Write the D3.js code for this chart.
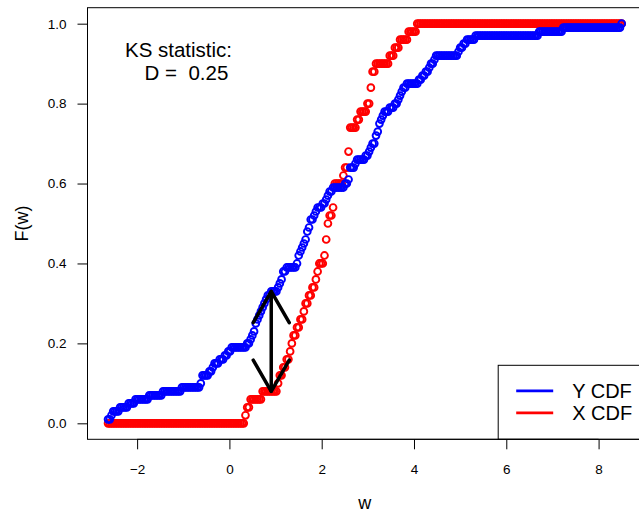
<!DOCTYPE html>
<html>
<head>
<meta charset="utf-8">
<script src="https://cdn.jsdelivr.net/npm/d3@7"></script>
<style>
  body { margin: 0; background: #fff; }
  svg { display: block; font-family: "Liberation Sans", Arial, sans-serif; }
</style>
</head>
<body>
<div id="chart"></div>
<script>
// samples (X: 50 obs, Y: 100 obs)
const xSample = [
  0.33, 0.37, 0.45, 0.70, 1.04, 1.09, 1.15, 1.22, 1.29, 1.34,
  1.38, 1.46, 1.52, 1.58, 1.65, 1.70, 1.79, 1.84, 1.88, 1.94,
  2.05, 2.08, 2.09, 2.12, 2.13, 2.16, 2.22, 2.27, 2.28, 2.28,
  2.46, 2.49, 2.55, 2.57, 2.59, 2.60, 2.60, 2.74, 2.84, 2.98,
  3.03, 3.05, 3.07, 3.10, 3.17, 3.47, 3.57, 3.68, 3.86, 4.07
];
const ySample = [
  -2.63, -2.58, -2.53, -2.40, -2.22, -2.04, -1.76, -1.45, -1.05, -0.62,
  -0.61, -0.60, -0.45, -0.36, -0.33, -0.22, -0.12, -0.05, 0.02, 0.38,
  0.43, 0.47, 0.52, 0.55, 0.57, 0.59, 0.62, 0.65, 0.69, 0.73,
  0.77, 0.81, 0.89, 1.05, 1.07, 1.10, 1.13, 1.16, 1.21, 1.43,
  1.47, 1.50, 1.52, 1.55, 1.58, 1.64, 1.66, 1.68, 1.70, 1.73,
  1.76, 1.80, 1.84, 1.90, 2.00, 2.08, 2.13, 2.17, 2.21, 2.48,
  2.57, 2.60, 2.61, 2.61, 2.70, 2.75, 2.95, 3.02, 3.06, 3.10,
  3.14, 3.16, 3.18, 3.22, 3.25, 3.28, 3.32, 3.35, 3.44, 3.56,
  3.63, 3.69, 3.72, 3.75, 3.84, 4.10, 4.18, 4.25, 4.31, 4.36,
  4.42, 4.47, 4.93, 4.98, 5.05, 5.12, 5.30, 6.70, 7.20, 8.50
];
const xTicks = [-2, 0, 2, 4, 6, 8];
const yTicks = [0, 0.2, 0.4, 0.6, 0.8, 1.0];
const legendLabels = ["Y CDF", "X CDF"];
const gridSize = 300; // number of w values where both ECDFs are evaluated

const width = 639;
const height = 512;
const margin = { top: 7.7, right: -3.2, bottom: 72.7, left: 87.5 };
const colY = "#0000ff";
const colX = "#ff0000";

const svg = d3
  .select("#chart")
  .append("svg")
  .attr("width", width)
  .attr("height", height);

svg.append("rect").attr("width", width).attr("height", height).attr("fill", "#fff");

const xs = xSample.slice().sort(d3.ascending);
const ys = ySample.slice().sort(d3.ascending);
const lo = Math.min(xs[0], ys[0]);
const hi = Math.max(xs[xs.length - 1], ys[ys.length - 1]);
const grid = d3.range(gridSize).map((i) => lo + (i * (hi - lo)) / (gridSize - 1));

const cdf = grid.map((w) => ({
  w: w,
  cx: d3.bisectRight(xs, w),
  cy: d3.bisectRight(ys, w),
}));

// R-style 4% padding around the data range
const pad = 0.04 * (hi - lo);
const x = d3
  .scaleLinear()
  .domain([lo - pad, hi + pad])
  .range([margin.left, width - margin.right]);
const y = d3
  .scaleLinear()
  .domain([-0.04, 1.04])
  .range([height - margin.bottom, margin.top]);

// X CDF first, Y CDF drawn on top
svg
  .append("g")
  .selectAll("circle")
  .data(cdf)
  .enter()
  .append("circle")
  .attr("cx", (d) => x(d.w))
  .attr("cy", (d) => y(d.cx / xs.length))
  .attr("r", 3.4)
  .attr("fill", "none")
  .attr("stroke", colX)
  .attr("stroke-width", 1.9);

svg
  .append("g")
  .selectAll("circle")
  .data(cdf)
  .enter()
  .append("circle")
  .attr("cx", (d) => x(d.w))
  .attr("cy", (d) => y(d.cy / ys.length))
  .attr("r", 3.4)
  .attr("fill", "none")
  .attr("stroke", colY)
  .attr("stroke-width", 1.9);

// KS distance: first grid point with the largest gap
const gaps = cdf.map((d) => Math.abs(d.cy * xs.length - d.cx * ys.length));
const iMax = d3.maxIndex(gaps);
const D = gaps[iMax] / (xs.length * ys.length);
const best = cdf[iMax];

const ax = x(best.w);
const ay0 = y(best.cx / xs.length);
const ay1 = y(best.cy / ys.length);
const headLen = 36;
const hx = headLen * Math.sin(Math.PI / 6);
const hy = headLen * Math.cos(Math.PI / 6);
const dir = ay1 < ay0 ? 1 : -1;

const arrow = svg
  .append("g")
  .attr("fill", "none")
  .attr("stroke", "#000")
  .attr("stroke-width", 3.5)
  .attr("stroke-linecap", "round")
  .attr("stroke-linejoin", "round");
arrow.append("line").attr("x1", ax).attr("x2", ax).attr("y1", ay0).attr("y2", ay1);
arrow
  .append("polyline")
  .attr("points", [[ax - hx, ay1 + dir * hy], [ax, ay1], [ax + hx, ay1 + dir * hy]].join(" "));
arrow
  .append("polyline")
  .attr("points", [[ax - hx, ay0 - dir * hy], [ax, ay0], [ax + hx, ay0 - dir * hy]].join(" "));

// annotation
svg
  .append("text")
  .attr("x", 178.5)
  .attr("y", 50)
  .attr("dy", "0.35em")
  .attr("text-anchor", "middle")
  .style("font-size", "20.5px")
  .text("KS statistic:");
svg
  .append("text")
  .attr("x", 186.5)
  .attr("y", 73)
  .attr("dy", "0.35em")
  .attr("text-anchor", "middle")
  .style("font-size", "20.5px")
  .style("white-space", "pre")
  .text("D =  " + d3.format(".2f")(D));

// legend (bottom right, touching the box)
const legW = 144;
const legH = 74;
const legX = width - margin.right - legW;
const legY = height - margin.bottom - legH;
const legend = svg.append("g");
legend
  .append("rect")
  .attr("x", legX)
  .attr("y", legY)
  .attr("width", legW)
  .attr("height", legH)
  .attr("fill", "#fff")
  .attr("stroke", "#000")
  .attr("stroke-width", 1);
legendLabels.forEach((lab, i) => {
  const ly = legY + 25.5 + i * 22;
  legend
    .append("line")
    .attr("x1", legX + 18)
    .attr("x2", legX + 55)
    .attr("y1", ly)
    .attr("y2", ly)
    .attr("stroke", i === 0 ? colY : colX)
    .attr("stroke-width", 2.8);
  legend
    .append("text")
    .attr("x", legX + 74)
    .attr("y", ly)
    .attr("dy", "0.35em")
    .style("font-size", "20px")
    .text(lab);
});

// box
svg
  .append("rect")
  .attr("x", margin.left)
  .attr("y", margin.top)
  .attr("width", width - margin.right - margin.left)
  .attr("height", height - margin.bottom - margin.top)
  .attr("fill", "none")
  .attr("stroke", "#000")
  .attr("stroke-width", 1);

// axes
const fmtX = (d) => (d < 0 ? "\u2212" + Math.abs(d) : String(d));
const xAxis = svg
  .append("g")
  .attr("transform", `translate(0,${height - margin.bottom})`)
  .call(d3.axisBottom(x).tickValues(xTicks).tickFormat(fmtX).tickSize(10).tickPadding(15));
const yAxis = svg
  .append("g")
  .attr("transform", `translate(${margin.left},0)`)
  .call(d3.axisLeft(y).tickValues(yTicks).tickFormat(d3.format(".1f")).tickSize(10).tickPadding(11));

[xAxis, yAxis].forEach((g) => {
  g.select(".domain").remove();
  g.selectAll("line").attr("stroke", "#000");
  g.selectAll("text")
    .attr("fill", "#000")
    .style("font-size", "13.5px")
    .style("font-family", '"Liberation Sans", Arial, sans-serif');
});
xAxis.append("line")
  .attr("x1", x(xTicks[0]))
  .attr("x2", x(xTicks[xTicks.length - 1]))
  .attr("stroke", "#000");
yAxis.append("line")
  .attr("y1", y(yTicks[0]))
  .attr("y2", y(yTicks[yTicks.length - 1]))
  .attr("stroke", "#000");

// axis titles
svg
  .append("text")
  .attr("x", (margin.left + width - margin.right) / 2)
  .attr("y", 503)
  .attr("dy", "0.35em")
  .attr("text-anchor", "middle")
  .style("font-size", "18px")
  .text("w");
svg
  .append("text")
  .attr("transform", `translate(22,${(margin.top + height - margin.bottom) / 2}) rotate(-90)`)
  .attr("dy", "0.35em")
  .attr("text-anchor", "middle")
  .style("font-size", "18px")
  .text("F(w)");
</script>
</body>
</html>
